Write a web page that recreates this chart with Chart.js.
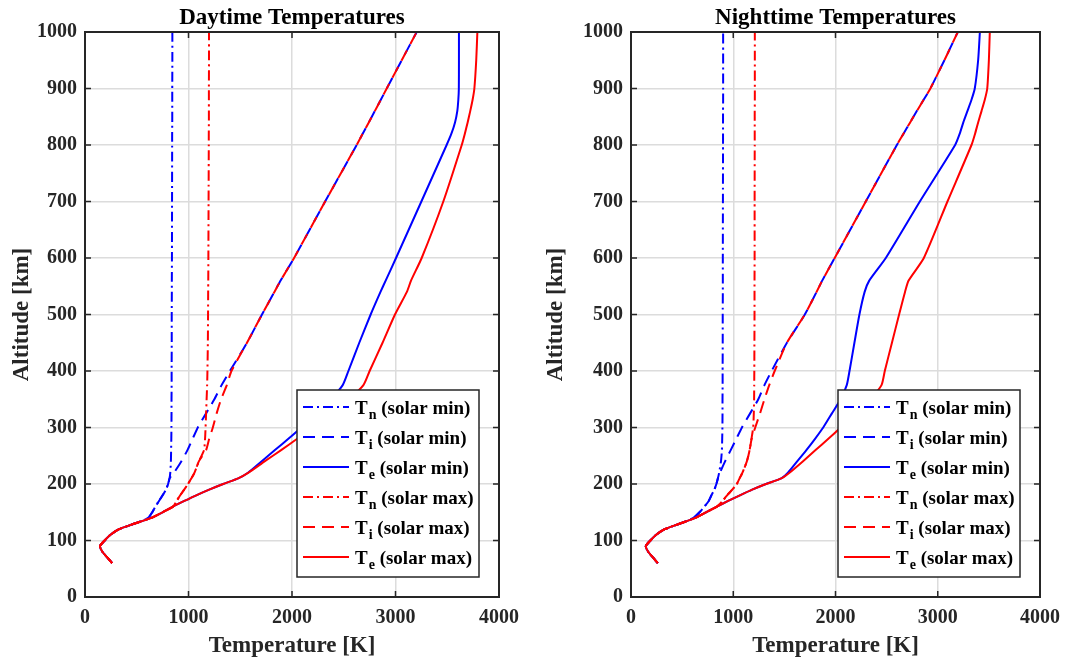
<!DOCTYPE html>
<html>
<head>
<meta charset="utf-8">
<title>Daytime / Nighttime Temperatures</title>
<script src="https://cdn.jsdelivr.net/npm/chart.js@4.4.1/dist/chart.umd.min.js"></script>
<style>
  html, body { margin: 0; padding: 0; background: #fff; }
  #wrap { position: relative; width: 1069px; height: 660px; }
  .panel { position: absolute; top: 0; height: 660px; }
</style>
</head>
<body>
<div id="wrap">
  <div class="panel" style="left:0;width:534px"><canvas id="dayChart" width="534" height="660"></canvas></div>
  <div class="panel" style="left:534px;width:535px"><canvas id="nightChart" width="535" height="660"></canvas></div>
</div>
<script>
// altitude grid [km], shared by every profile
const altitude = [60, 70, 80, 90, 100, 110, 120, 130, 140, 150, 160, 170, 180, 190, 200, 210,
  220, 240, 260, 280, 300, 325, 350, 375, 400, 450, 500, 540, 560, 600, 700,
  800, 820, 840, 860, 880, 900, 950, 1000];

// below ~130 km all temperatures coincide
const lowT = [262, 215, 168, 145, 190, 245, 330, 480];

// daytime profiles [K]
const dayTnMin = [...lowT, 610, 650, 680, 715, 750, 782, 803, 817,
  824, 830, 832, 834, 835, 836, 836, 837, 837, 838, 838, 839, 839, 840, 841,
  842, 842, 843, 843, 843, 843, 844, 844];
const dayTiMin = [...lowT, 610, 650, 680, 715, 750, 782, 803, 817,
  860, 930, 990, 1040, 1090, 1170, 1250, 1320, 1400, 1565, 1710, 1830, 1890, 2020, 2320,
  2625, 2683, 2742, 2800, 2858, 2915, 3060, 3205];
const dayTeMin = [...lowT, 640, 750, 850, 960, 1075, 1200, 1335, 1480,
  1575, 1705, 1835, 1965, 2090, 2235, 2375, 2490, 2545, 2650, 2760, 2855, 2905, 3005, 3250,
  3494, 3540, 3575, 3597, 3607, 3612, 3613, 3613];
const dayTnMax = [...lowT, 640, 750, 850, 885, 920, 958, 995, 1028,
  1058, 1100, 1150, 1160, 1165, 1170, 1175, 1180, 1183, 1187, 1189, 1190, 1191, 1192, 1194,
  1196, 1196, 1197, 1197, 1197, 1197, 1198, 1198];
const dayTiMax = [...lowT, 640, 750, 850, 885, 920, 958, 995, 1028,
  1058, 1100, 1170, 1200, 1235, 1272, 1315, 1370, 1415, 1565, 1710, 1830, 1890, 2020, 2320,
  2625, 2683, 2742, 2800, 2858, 2915, 3060, 3205];
const dayTeMax = [...lowT, 640, 750, 850, 960, 1075, 1200, 1335, 1480,
  1580, 1735, 1895, 2050, 2200, 2375, 2550, 2690, 2750, 2875, 2995, 3110, 3150, 3253, 3462,
  3640, 3670, 3697, 3722, 3745, 3762, 3780, 3791];

// nighttime profiles [K]
const nightTnMin = [...lowT, 610, 670, 718, 760, 787, 815, 835, 850,
  862, 880, 889, 892, 894, 895, 895, 896, 896, 897, 897, 898, 898, 898, 899,
  900, 900, 900, 900, 901, 901, 901, 901];
const nightTiMin = [...lowT, 610, 670, 718, 760, 787, 815, 835, 850,
  870, 920, 975, 1030, 1085, 1165, 1245, 1305, 1375, 1525, 1700, 1815, 1870, 1992, 2296,
  2600, 2665, 2730, 2795, 2862, 2928, 3065, 3196];
const nightTeMin = [...lowT, 630, 735, 840, 950, 1065, 1185, 1320, 1470,
  1535, 1625, 1715, 1800, 1880, 1965, 2050, 2110, 2137, 2185, 2234, 2285, 2330, 2492, 2825,
  3170, 3215, 3250, 3290, 3330, 3362, 3395, 3412];
const nightTnMax = [...lowT, 630, 735, 840, 895, 940, 990, 1035, 1062,
  1090, 1133, 1160, 1178, 1195, 1201, 1204, 1205, 1206, 1207, 1208, 1208, 1208, 1209, 1209,
  1210, 1210, 1210, 1210, 1211, 1211, 1211, 1211];
const nightTiMax = [...lowT, 630, 735, 840, 895, 940, 990, 1035, 1062,
  1090, 1133, 1160, 1180, 1215, 1262, 1305, 1352, 1405, 1525, 1700, 1815, 1870, 1992, 2296,
  2600, 2665, 2730, 2795, 2862, 2928, 3065, 3196];
const nightTeMax = [...lowT, 630, 735, 840, 950, 1065, 1185, 1320, 1470,
  1550, 1680, 1805, 1930, 2050, 2195, 2340, 2450, 2482, 2552, 2622, 2680, 2715, 2864, 3095,
  3330, 3365, 3395, 3428, 3460, 3484, 3500, 3509];

const seriesSubs = ["n", "i", "e", "n", "i", "e"];
const seriesNotes = ["(solar min)", "(solar min)", "(solar min)", "(solar max)", "(solar max)", "(solar max)"];
const seriesColors = ["#0000ff", "#0000ff", "#0000ff", "#ff0000", "#ff0000", "#ff0000"];
const seriesDash = [[10, 4, 2, 4], [12, 7], [], [10, 4, 2, 4], [12, 7], []];

const FONT = "'Liberation Serif', 'Times New Roman', serif";
const INK = "#262626";

Chart.defaults.font.family = FONT;
Chart.defaults.font.weight = "bold";
Chart.defaults.color = INK;

function makeDatasets(profiles) {
  return profiles.map((temps, i) => ({
    label: "T" + seriesSubs[i] + " " + seriesNotes[i],
    data: altitude.map((a, k) => ({ x: temps[k], y: a })),
    borderColor: seriesColors[i],
    backgroundColor: seriesColors[i],
    borderDash: seriesDash[i],
    borderWidth: 2,
    pointRadius: 0,
    showLine: true,
    tension: 0.2,
    order: 5 - i,
  }));
}

// box with inward ticks plus a MATLAB-like legend with subscripts
const frame = {
  id: "frame",
  afterDatasetsDraw(chart) {
    const { ctx, chartArea: a, scales } = chart;
    ctx.save();
    ctx.strokeStyle = INK;
    ctx.lineWidth = 1.5;
    ctx.setLineDash([]);
    ctx.beginPath();
    scales.x.ticks.forEach(t => {
      const px = scales.x.getPixelForValue(t.value);
      ctx.moveTo(px, a.bottom); ctx.lineTo(px, a.bottom - 6);
      ctx.moveTo(px, a.top); ctx.lineTo(px, a.top + 6);
    });
    scales.y.ticks.forEach(t => {
      const py = scales.y.getPixelForValue(t.value);
      ctx.moveTo(a.left, py); ctx.lineTo(a.left + 6, py);
      ctx.moveTo(a.right, py); ctx.lineTo(a.right - 6, py);
    });
    ctx.stroke();
    ctx.lineWidth = 2;
    ctx.strokeRect(a.left, a.top, a.right - a.left, a.bottom - a.top);

    // legend
    const w = 182, h = 187;
    const bx = a.right - 20 - w, by = a.bottom - 20 - h;
    ctx.fillStyle = "#fff";
    ctx.fillRect(bx, by, w, h);
    ctx.lineWidth = 1.5;
    ctx.strokeRect(bx, by, w, h);
    chart.data.datasets.forEach((ds, i) => {
      const ry = by + 17 + i * 30;
      ctx.strokeStyle = ds.borderColor;
      ctx.lineWidth = 2;
      ctx.setLineDash(ds.borderDash);
      ctx.beginPath();
      ctx.moveTo(bx + 6, ry); ctx.lineTo(bx + 52, ry);
      ctx.stroke();
      ctx.setLineDash([]);
      ctx.fillStyle = "#000";
      ctx.textBaseline = "alphabetic";
      ctx.textAlign = "left";
      let tx = bx + 58;
      const base = ry + 6.5;
      ctx.font = "bold 19px " + FONT;
      ctx.fillText("T", tx, base);
      tx += ctx.measureText("T").width + 1;
      ctx.font = "bold 14px " + FONT;
      ctx.fillText(seriesSubs[i], tx, base + 5);
      tx += ctx.measureText(seriesSubs[i]).width;
      ctx.font = "bold 19px " + FONT;
      ctx.fillText(" " + seriesNotes[i], tx, base);
    });
    ctx.restore();
  }
};

function makeChart(id, title, profiles, yWidth, rightPad) {
  return new Chart(document.getElementById(id), {
    type: "scatter",
    data: { datasets: makeDatasets(profiles) },
    options: {
      responsive: false,
      animation: false,
      events: [],
      layout: { padding: { left: 0, right: rightPad, top: 0, bottom: 0 } },
      plugins: {
        legend: { display: false },
        tooltip: { enabled: false },
        title: {
          display: true,
          text: title,
          fullSize: false,
          color: "#000",
          font: { size: 23, weight: "bold", lineHeight: 1.2 },
          padding: { top: 4, bottom: 0.4 },
        },
      },
      scales: {
        x: {
          type: "linear",
          min: 0,
          max: 4000,
          border: { display: false },
          grid: { color: "#dcdcdc", lineWidth: 1.5, drawTicks: false },
          ticks: { stepSize: 1000, padding: 9, font: { size: 20 }, format: { useGrouping: false } },
          title: { display: true, text: "Temperature [K]", font: { size: 23 }, padding: { top: 2, bottom: 0 } },
          afterFit(s) { s.height = 63; },
        },
        y: {
          type: "linear",
          min: 0,
          max: 1000,
          border: { display: false },
          grid: { color: "#dcdcdc", lineWidth: 1.5, drawTicks: false },
          ticks: { stepSize: 100, padding: 8, font: { size: 20 }, format: { useGrouping: false } },
          title: { display: true, text: "Altitude [km]", font: { size: 23 }, padding: { top: 8, bottom: 0 } },
          afterFit(s) { s.width = yWidth; },
        },
      },
    },
    plugins: [frame],
  });
}

makeChart("dayChart", "Daytime Temperatures",
  [dayTnMin, dayTiMin, dayTeMin, dayTnMax, dayTiMax, dayTeMax], 85, 35);
makeChart("nightChart", "Nighttime Temperatures",
  [nightTnMin, nightTiMin, nightTeMin, nightTnMax, nightTiMax, nightTeMax], 97, 25);
</script>
</body>
</html>
